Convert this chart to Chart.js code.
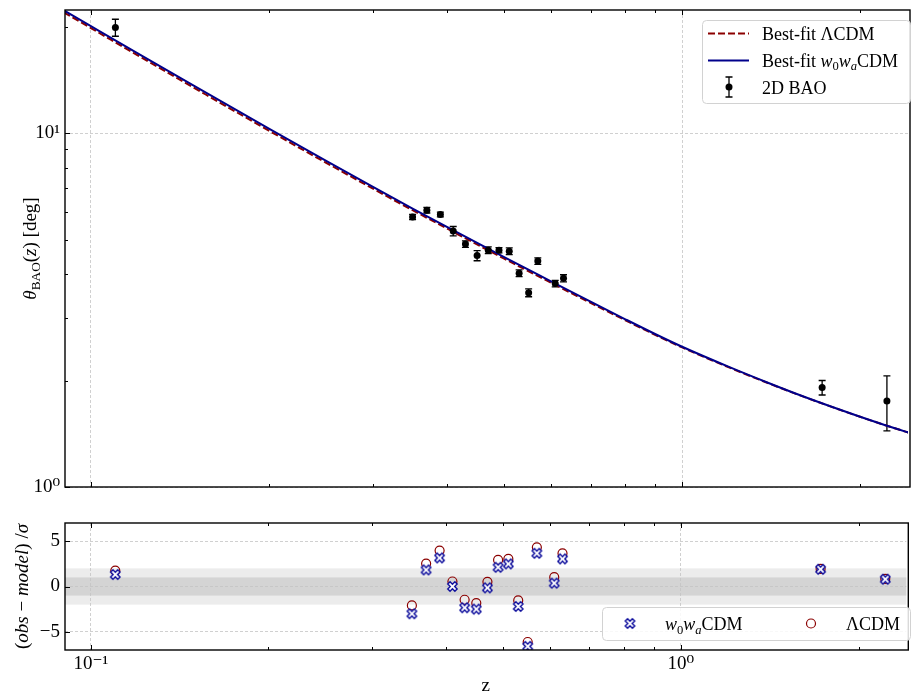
<!DOCTYPE html>
<html>
<head>
<meta charset="utf-8">
<script src="https://cdn.jsdelivr.net/npm/chart.js@4.4.1/dist/chart.umd.min.js"></script>
<style>
html, body { margin: 0; padding: 0; background: #fff; }
#cajaArriba { position: absolute; left: 0; top: 0; }
#cajaAbajo { position: absolute; left: 0; top: 500px; }
</style>
</head>
<body>
<canvas id="cajaArriba" width="912" height="500"></canvas>
<canvas id="cajaAbajo" width="912" height="194"></canvas>
<script>
// Datos 2D BAO
const zBAO = [0.11, 0.35, 0.37, 0.39, 0.41, 0.43, 0.45, 0.47, 0.49, 0.51, 0.53, 0.55, 0.57, 0.61, 0.63, 1.725, 2.22];
const thetaBAO = [19.9, 5.80, 6.06, 5.89, 5.29, 4.86, 4.51, 4.67, 4.67, 4.64, 4.02, 3.54, 4.35, 3.76, 3.89, 1.91, 1.75];
const sigmaBAO = [1.1, 0.10, 0.11, 0.09, 0.16, 0.10, 0.15, 0.10, 0.08, 0.10, 0.09, 0.09, 0.09, 0.08, 0.09, 0.09, 0.31];

// Curvas de mejor ajuste
const zModel = [0.09, 0.1, 0.12, 0.15, 0.2, 0.25, 0.3, 0.35, 0.4, 0.5, 0.6, 0.7, 0.8, 0.9, 1.0, 1.2, 1.4, 1.6, 1.8, 2.0, 2.2, 2.4, 2.45];
const thetaW0WA = [22.25, 20.08, 16.82, 13.56, 10.30, 8.35, 7.05, 6.125, 5.433, 4.463, 3.813, 3.340, 2.984, 2.707, 2.491, 2.185, 1.968, 1.805, 1.680, 1.579, 1.497, 1.430, 1.415];
const thetaLCDM = [21.95, 19.82, 16.60, 13.39, 10.17, 8.25, 6.97, 6.06, 5.38, 4.42, 3.78, 3.315, 2.965, 2.693, 2.480, 2.178, 1.964, 1.803, 1.679, 1.579, 1.497, 1.430, 1.415];

// Residuos (obs - model)/sigma
const resW0WA = [1.32, -3.0, 1.83, 3.15, 0.0, -2.34, -2.49, -0.15, 2.12, 2.49, -2.2, -6.6, 3.66, 0.37, 3.04, 1.9, 0.8];
const resLCDM = [1.76, -2.09, 2.53, 3.96, 0.55, -1.46, -1.83, 0.51, 2.93, 3.04, -1.54, -6.12, 4.32, 1.03, 3.66, 1.95, 0.85];

// Ejes y ticks
const xMin = 0.0904, xMax = 2.41;
const yTopMin = 1, yTopMax = 22.3;
const yBotMin = -7, yBotMax = 7;
const xMajor = [0.1, 1];
const xMinor = [0.2, 0.3, 0.4, 0.5, 0.6, 0.7, 0.8, 0.9, 2];
const yTopMajor = [1, 10];
const yTopMinor = [2, 3, 4, 5, 6, 7, 8, 9, 20];
const yBotMajor = [-5, 0, 5];
const bandas = [2, 1]; // 2 sigma y 1 sigma

const FUENTE = '"Liberation Serif", "DejaVu Serif", serif';
const ROJO = '#8b0000';
const AZUL = '#00008b';
const AZUL_X = '#0c0c9c';
const GRIS_GRID = '#c4c4c4';

function etiquetaX(v) { return v < 0.5 ? '10\u207B\u00B9' : '10\u2070'; }
function etiquetaYTop(v) { return v < 5 ? '10\u2070' : '10\u00B9'; }
function etiquetaYBot(v) { return v < 0 ? '\u2212' + Math.abs(v) : String(v); }

// Marcador "X" relleno de blanco con borde azul
function crearMarcadorX(color) {
    const c = document.createElement('canvas');
    c.width = 13; c.height = 13;
    const g = c.getContext('2d');
    g.translate(6.5, 6.5);
    g.rotate(Math.PI / 4);
    const a = 5.0, w = 1.6;
    g.beginPath();
    g.moveTo(-w, -a); g.lineTo(w, -a); g.lineTo(w, -w); g.lineTo(a, -w);
    g.lineTo(a, w); g.lineTo(w, w); g.lineTo(w, a); g.lineTo(-w, a);
    g.lineTo(-w, w); g.lineTo(-a, w); g.lineTo(-a, -w); g.lineTo(-w, -w);
    g.closePath();
    g.fillStyle = '#fff';
    g.fill();
    g.lineWidth = 1.4;
    g.strokeStyle = color;
    g.stroke();
    return c;
}
const marcadorX = crearMarcadorX(AZUL_X);

// Texto con cursivas y subindices
function textoRico(ctx, partes, x, y, size, align) {
    const fuentePara = (st) => {
        const s = (st === 'sub' || st === 'isub') ? size * 0.7 : size;
        const it = (st === 'i' || st === 'isub') ? 'italic ' : '';
        return it + s + 'px ' + FUENTE;
    };
    let total = 0;
    for (const [t, st] of partes) { ctx.font = fuentePara(st); total += ctx.measureText(t).width; }
    let cx = align === 'center' ? x - total / 2 : (align === 'right' ? x - total : x);
    ctx.textAlign = 'left';
    ctx.textBaseline = 'alphabetic';
    for (const [t, st] of partes) {
        ctx.font = fuentePara(st);
        const dy = (st === 'sub' || st === 'isub') ? size * 0.22 : 0;
        ctx.fillText(t, cx, y + dy);
        cx += ctx.measureText(t).width;
    }
}

// Marco y ticks hacia adentro
function dibujarMarco(chart, yMajor, yMinor) {
    const ctx = chart.ctx, a = chart.chartArea;
    const sx = chart.scales.x, sy = chart.scales.y;
    ctx.save();
    ctx.strokeStyle = '#000';
    ctx.lineWidth = 1;
    ctx.beginPath();
    xMajor.concat(xMinor).forEach(v => {
        const px = Math.round(sx.getPixelForValue(v)) + 0.5;
        const L = xMajor.includes(v) ? 5 : 3;
        ctx.moveTo(px, a.bottom); ctx.lineTo(px, a.bottom - L);
        ctx.moveTo(px, a.top); ctx.lineTo(px, a.top + L);
    });
    yMajor.concat(yMinor).forEach(v => {
        const py = Math.round(sy.getPixelForValue(v)) + 0.5;
        const L = yMajor.includes(v) ? 5 : 3;
        ctx.moveTo(a.left, py); ctx.lineTo(a.left + L, py);
    });
    ctx.stroke();
    ctx.lineWidth = 1.4;
    ctx.strokeRect(a.left, a.top, a.right - a.left + 2, a.bottom - a.top);
    ctx.restore();
}

function cajaLeyenda(ctx, x, y, w, h) {
    ctx.save();
    ctx.fillStyle = 'rgba(255,255,255,0.85)';
    ctx.strokeStyle = '#d2d2d2';
    ctx.lineWidth = 1;
    ctx.beginPath();
    ctx.roundRect(x, y, w, h, 4);
    ctx.fill();
    ctx.stroke();
    ctx.restore();
}

// Barras de error del panel superior
const pluginErrores = {
    id: 'errores',
    beforeDatasetsDraw(chart) {
        const ctx = chart.ctx, sx = chart.scales.x, sy = chart.scales.y;
        ctx.save();
        ctx.strokeStyle = '#000';
        ctx.lineWidth = 1.3;
        ctx.beginPath();
        zBAO.forEach((z, i) => {
            const px = sx.getPixelForValue(z);
            const pHi = sy.getPixelForValue(thetaBAO[i] + sigmaBAO[i]);
            const pLo = sy.getPixelForValue(thetaBAO[i] - sigmaBAO[i]);
            ctx.moveTo(px, pHi); ctx.lineTo(px, pLo);
            ctx.moveTo(px - 3.5, pHi); ctx.lineTo(px + 3.5, pHi);
            ctx.moveTo(px - 3.5, pLo); ctx.lineTo(px + 3.5, pLo);
        });
        ctx.stroke();
        ctx.restore();
    }
};

const pluginArriba = {
    id: 'decoArriba',
    afterDraw(chart) {
        const ctx = chart.ctx;
        dibujarMarco(chart, yTopMajor, yTopMinor);
        // titulo eje y
        ctx.save();
        ctx.fillStyle = '#000';
        ctx.translate(30, (chart.chartArea.top + chart.chartArea.bottom) / 2);
        ctx.rotate(-Math.PI / 2);
        textoRico(ctx, [['\u03B8', 'i'], ['BAO', 'sub'], ['(', 'n'], ['z', 'i'], [') [deg]', 'n']], 0, 6, 19, 'center');
        ctx.restore();
        // leyenda
        cajaLeyenda(ctx, 702.5, 20.5, 208, 83);
        ctx.save();
        ctx.lineWidth = 2;
        ctx.strokeStyle = ROJO;
        ctx.setLineDash([7, 3]);
        ctx.beginPath(); ctx.moveTo(708, 33.5); ctx.lineTo(749, 33.5); ctx.stroke();
        ctx.setLineDash([]);
        ctx.strokeStyle = AZUL;
        ctx.beginPath(); ctx.moveTo(708, 60.5); ctx.lineTo(749, 60.5); ctx.stroke();
        ctx.strokeStyle = '#000';
        ctx.lineWidth = 1.3;
        ctx.beginPath();
        ctx.moveTo(729, 77); ctx.lineTo(729, 97);
        ctx.moveTo(725.5, 77); ctx.lineTo(732.5, 77);
        ctx.moveTo(725.5, 97); ctx.lineTo(732.5, 97);
        ctx.stroke();
        ctx.fillStyle = '#000';
        ctx.beginPath(); ctx.arc(729, 87, 3.5, 0, Math.PI * 2); ctx.fill();
        textoRico(ctx, [['Best-fit \u039BCDM', 'n']], 762, 39.5, 18, 'left');
        textoRico(ctx, [['Best-fit ', 'n'], ['w', 'i'], ['0', 'sub'], ['w', 'i'], ['a', 'isub'], ['CDM', 'n']], 762, 66.5, 18, 'left');
        textoRico(ctx, [['2D BAO', 'n']], 762, 93.5, 18, 'left');
        ctx.restore();
    }
};

const pluginAbajo = {
    id: 'decoAbajo',
    beforeDraw(chart) {
        const ctx = chart.ctx, a = chart.chartArea, sy = chart.scales.y;
        ctx.save();
        ctx.fillStyle = '#ececec';
        let y1 = sy.getPixelForValue(bandas[0]), y2 = sy.getPixelForValue(-bandas[0]);
        ctx.fillRect(a.left, y1, a.right - a.left, y2 - y1);
        ctx.fillStyle = '#d4d4d4';
        y1 = sy.getPixelForValue(bandas[1]); y2 = sy.getPixelForValue(-bandas[1]);
        ctx.fillRect(a.left, y1, a.right - a.left, y2 - y1);
        ctx.restore();
    },
    afterDraw(chart) {
        const ctx = chart.ctx;
        dibujarMarco(chart, yBotMajor, []);
        ctx.save();
        ctx.fillStyle = '#000';
        ctx.translate(22, (chart.chartArea.top + chart.chartArea.bottom) / 2);
        ctx.rotate(-Math.PI / 2);
        textoRico(ctx, [['(', 'n'], ['obs', 'i'], [' \u2212 ', 'n'], ['model', 'i'], [') /', 'n'], ['\u03C3', 'i']], 0, 6, 19, 'center');
        ctx.restore();
        // leyenda inferior
        cajaLeyenda(ctx, 602.5, 107.5, 308, 33);
        ctx.save();
        ctx.drawImage(marcadorX, 630 - 6.5, 123.5 - 6.5);
        ctx.strokeStyle = ROJO;
        ctx.lineWidth = 1.2;
        ctx.beginPath(); ctx.arc(811, 123.5, 4.5, 0, Math.PI * 2); ctx.stroke();
        ctx.fillStyle = '#000';
        textoRico(ctx, [['w', 'i'], ['0', 'sub'], ['w', 'i'], ['a', 'isub'], ['CDM', 'n']], 665, 130, 18, 'left');
        textoRico(ctx, [['\u039BCDM', 'n']], 846, 130, 18, 'left');
        ctx.restore();
    }
};

function ejeGrid() {
    return { color: GRIS_GRID, lineWidth: 0.8, drawTicks: false };
}

// Quita el relleno que Chart.js agrega por las etiquetas extremas
function ajustarY(s) {
    s.width = 65;
    s.paddingTop = 0;
    s.paddingBottom = 0;
}

const graficoArriba = new Chart(document.getElementById('cajaArriba'), {
    type: 'line',
    data: {
        datasets: [
            {
                label: 'Best-fit \u039BCDM',
                data: zModel.map((z, i) => ({ x: z, y: thetaLCDM[i] })),
                borderColor: ROJO, borderWidth: 2, borderDash: [7, 3],
                pointRadius: 0, cubicInterpolationMode: 'monotone', clip: 0, order: 3
            },
            {
                label: 'Best-fit w0waCDM',
                data: zModel.map((z, i) => ({ x: z, y: thetaW0WA[i] })),
                borderColor: AZUL, borderWidth: 2,
                pointRadius: 0, cubicInterpolationMode: 'monotone', clip: 0, order: 2
            },
            {
                type: 'scatter',
                label: '2D BAO',
                data: zBAO.map((z, i) => ({ x: z, y: thetaBAO[i] })),
                backgroundColor: '#000', borderColor: '#000', borderWidth: 0,
                pointRadius: 3.5, order: 1
            }
        ]
    },
    options: {
        responsive: false, animation: false, events: [],
        layout: { padding: { top: 10, left: 0, right: 0, bottom: 0 } },
        plugins: { legend: { display: false }, tooltip: { enabled: false } },
        scales: {
            x: {
                type: 'logarithmic', min: xMin, max: xMax,
                afterBuildTicks: s => { s.ticks = xMajor.map(v => ({ value: v })); },
                afterFit: s => { s.height = 13; s.paddingLeft = 0; s.paddingRight = 0; },
                ticks: { display: false },
                grid: ejeGrid(),
                border: { display: false, dash: [3, 2] }
            },
            y: {
                type: 'logarithmic', min: yTopMin, max: yTopMax,
                afterBuildTicks: s => { s.ticks = yTopMajor.map(v => ({ value: v })); },
                afterFit: ajustarY,
                ticks: { callback: v => etiquetaYTop(v), font: { family: FUENTE, size: 19 }, color: '#000', padding: 5 },
                grid: ejeGrid(),
                border: { display: false, dash: [3, 2] }
            }
        }
    },
    plugins: [pluginErrores, pluginArriba]
});

const graficoAbajo = new Chart(document.getElementById('cajaAbajo'), {
    type: 'scatter',
    data: {
        datasets: [
            {
                label: 'w0waCDM',
                data: zBAO.map((z, i) => ({ x: z, y: resW0WA[i] })),
                pointStyle: marcadorX, clip: 0, order: 1
            },
            {
                label: '\u039BCDM',
                data: zBAO.map((z, i) => ({ x: z, y: resLCDM[i] })),
                pointStyle: 'circle', pointRadius: 4.5,
                borderColor: ROJO, borderWidth: 1.2, backgroundColor: 'rgba(0,0,0,0)',
                clip: 0, order: 2
            }
        ]
    },
    options: {
        responsive: false, animation: false, events: [],
        layout: { padding: { top: 23, left: 0, right: 0, bottom: 0 } },
        plugins: { legend: { display: false }, tooltip: { enabled: false } },
        scales: {
            x: {
                type: 'logarithmic', min: xMin, max: xMax,
                afterBuildTicks: s => { s.ticks = xMajor.map(v => ({ value: v })); },
                afterFit: s => { s.height = 44; s.paddingLeft = 0; s.paddingRight = 0; },
                ticks: { callback: v => etiquetaX(v), font: { family: FUENTE, size: 19 }, color: '#000', padding: 3, maxRotation: 0, autoSkip: false },
                title: { display: true, text: 'z', font: { family: FUENTE, size: 19 }, color: '#000', padding: { top: 0, bottom: -3 } },
                grid: ejeGrid(),
                border: { display: false, dash: [3, 2] }
            },
            y: {
                type: 'linear', min: yBotMin, max: yBotMax,
                afterBuildTicks: s => { s.ticks = yBotMajor.map(v => ({ value: v })); },
                afterFit: ajustarY,
                ticks: { callback: v => etiquetaYBot(v), font: { family: FUENTE, size: 19 }, color: '#000', padding: 5 },
                grid: ejeGrid(),
                border: { display: false, dash: [3, 2] }
            }
        }
    },
    plugins: [pluginAbajo]
});
</script>
</body>
</html>
